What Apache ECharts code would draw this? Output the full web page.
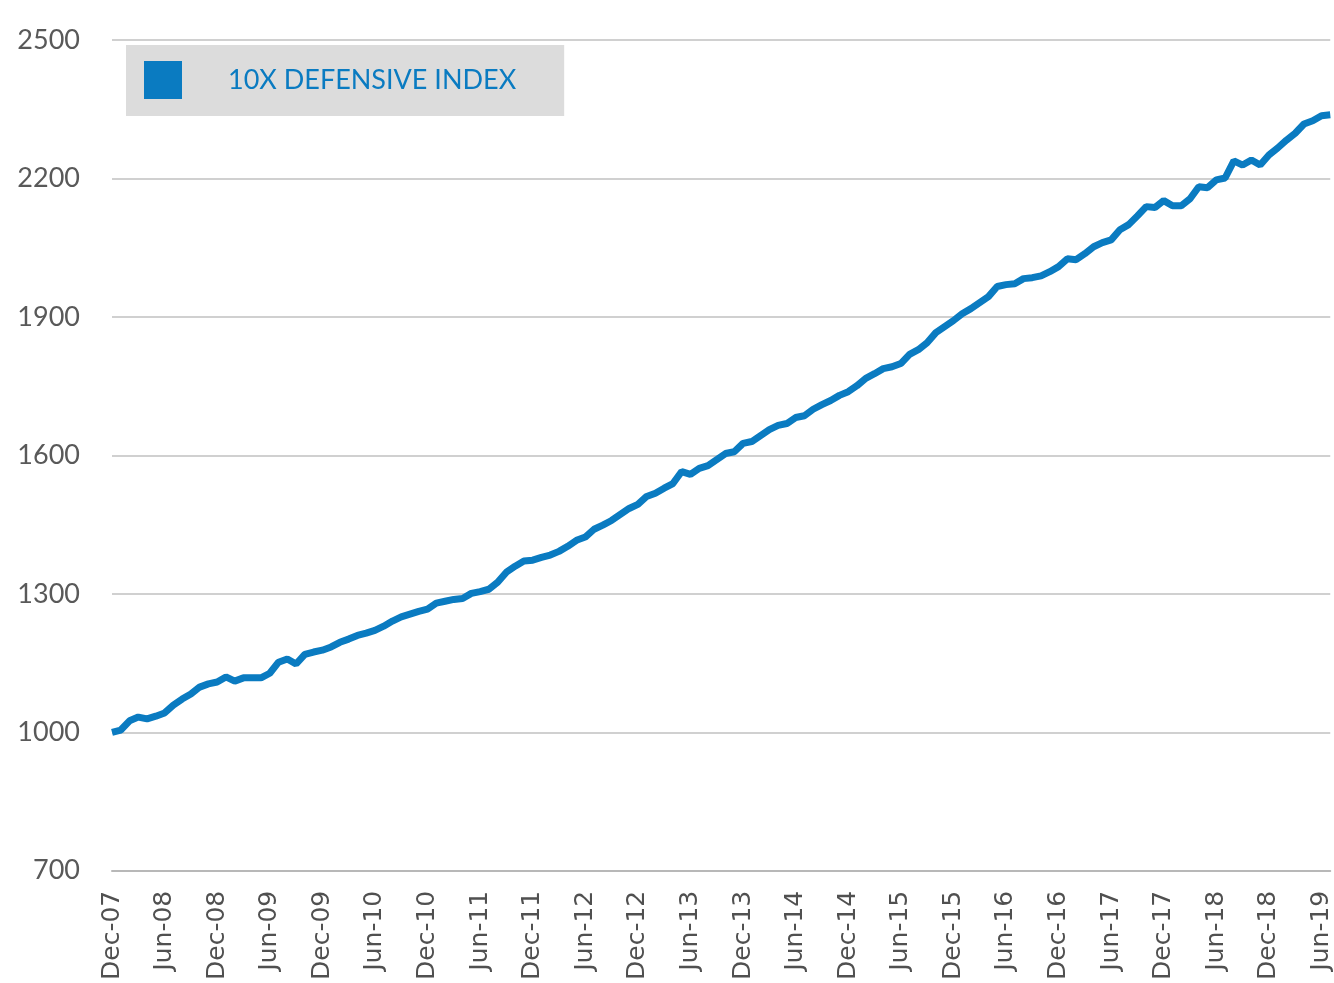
<!DOCTYPE html>
<html>
<head>
<meta charset="utf-8">
<script src="https://cdn.jsdelivr.net/npm/echarts@6/dist/echarts.min.js"></script>
<style>html,body{margin:0;padding:0;background:#fff;}#c{width:1334px;height:983px;}</style>
</head>
<body>
<div id="c"></div>
<script>
const monthNames = ['Jan','Feb','Mar','Apr','May','Jun','Jul','Aug','Sep','Oct','Nov','Dec'];
const startYear = 2007, startMonth = 11; // Dec-07
const seriesName = '10X DEFENSIVE INDEX';
const indexValues = [
1000,1005,1025,1033,1029,1035,1042,1059,1072,1083,1098,1105,1109,1120,1111,1118,1118,1118,1128,1152,
1159,1148,1169,1174,1178,1185,1195,1202,1210,1215,1221,1230,1241,1250,1256,1262,1267,1280,1284,1288,
1290,1301,1305,1310,1325,1347,1360,1371,1373,1379,1384,1392,1403,1416,1423,1440,1449,1459,1472,1485,
1494,1511,1518,1529,1539,1565,1559,1572,1578,1591,1604,1608,1626,1630,1643,1656,1665,1669,1682,1686,
1700,1710,1719,1730,1738,1751,1767,1777,1788,1792,1799,1819,1829,1844,1866,1879,1892,1907,1918,1931,
1944,1966,1970,1972,1983,1985,1989,1998,2009,2026,2024,2037,2052,2061,2067,2089,2100,2119,2139,2137,
2152,2141,2141,2156,2182,2180,2197,2201,2238,2229,2240,2229,2251,2266,2283,2298,2318,2325,2336,2338
];
const yTicks = [700, 1000, 1300, 1600, 1900, 2200, 2500];

const categories = indexValues.map((v, i) => {
  const m = (startMonth + i) % 12;
  const y = startYear + Math.floor((startMonth + i) / 12);
  return monthNames[m] + '-' + String(y % 100).padStart(2, '0');
});

const chart = echarts.init(document.getElementById('c'));
chart.setOption({
  animation: false,
  backgroundColor: '#ffffff',
  grid: { left: 112, right: -3, top: 40, bottom: 111, containLabel: false },
  legend: {
    left: 126, top: 45,
    backgroundColor: '#dcdcdc',
    padding: [16, 48, 17, 18],
    icon: 'rect',
    itemWidth: 38, itemHeight: 38,
    textStyle: { color: '#0a7bc1', fontSize: 27, fontFamily: 'Lato', padding: [0, 0, 0, 41] },
    data: [{ name: seriesName, itemStyle: { color: '#0a7bc1' } }]
  },
  xAxis: {
    type: 'category',
    data: categories,
    boundaryGap: false,
    axisLine: { show: true, lineStyle: { color: '#b8b8b8', width: 2 } },
    axisTick: { show: false },
    axisLabel: { interval: 5, rotate: 90, color: '#505050', fontSize: 25, fontFamily: '"DejaVu Sans"', margin: 20 },
    splitLine: { show: false }
  },
  yAxis: {
    type: 'value',
    min: yTicks[0], max: yTicks[yTicks.length - 1], interval: 300,
    axisLine: { show: false },
    axisTick: { show: false },
    axisLabel: { color: '#595959', fontSize: 27, fontFamily: 'Lato', margin: 32, formatter: v => String(v) },
    splitLine: { lineStyle: { color: '#d0d0d0', width: 2 } }
  },
  series: [{
    name: seriesName,
    type: 'line',
    data: indexValues,
    showSymbol: false,
    symbol: 'none',
    lineStyle: { color: '#0a7bc1', width: 7 },
    itemStyle: { color: '#0a7bc1' }
  }]
});
</script>
</body>
</html>
